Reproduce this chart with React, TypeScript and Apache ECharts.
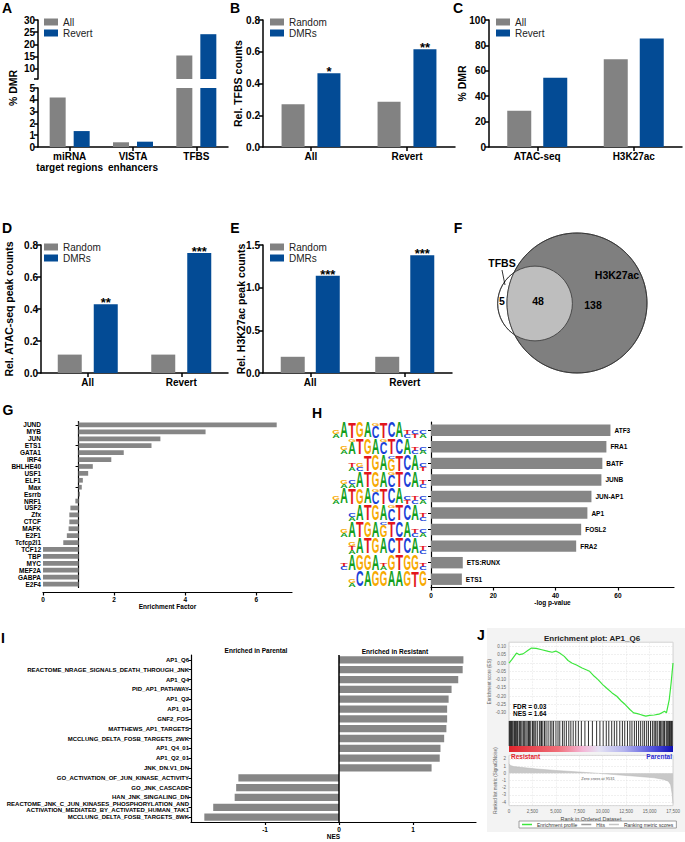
import React, { useEffect, useRef } from "react";
import * as echarts from "echarts";

// ---------------- Panel A ----------------
const aCategories = ["miRNA\ntarget regions", "VISTA\nenhancers", "TFBS"];
const aAll = [4.2, 0.4, 15.5];
const aRevert = [1.35, 0.45, 24.2];
const aUpperTicks = [10, 15, 20, 25, 30];

// ---------------- Panel B ----------------
const bCategories = ["All", "Revert"];
const bRandom = [0.27, 0.285];
const bDMRs = [0.465, 0.615];
const bStars = ["*", "**"];

// ---------------- Panel C ----------------
const cCategories = ["ATAC-seq", "H3K27ac"];
const cAll = [28.5, 69];
const cRevert = [54.5, 85.5];

// ---------------- Panel D ----------------
const dCategories = ["All", "Revert"];
const dRandom = [0.115, 0.115];
const dDMRs = [0.43, 0.75];
const dStars = ["**", "***"];

// ---------------- Panel E ----------------
const eCategories = ["All", "Revert"];
const eRandom = [0.19, 0.19];
const eDMRs = [1.14, 1.38];
const eStars = ["***", "***"];

// ---------------- Panel F (Venn) ----------------
const vennSets = ["TFBS", "H3K27ac"];
const vennCounts = [5, 48, 138]; // TFBS only, both, H3K27ac only

// ---------------- Panel G ----------------
const gFactors = ["JUND", "MYB", "JUN", "ETS1", "GATA1", "IRF4", "BHLHE40", "USF1", "ELF1", "Max", "Esrrb", "NRF1", "USF2", "Zfx", "CTCF", "MAFK", "E2F1", "Tcfcp2l1", "TCF12", "TBP", "MYC", "MEF2A", "GABPA", "E2F4"];
const gEnrichment = [6.57, 4.57, 3.3, 3.05, 2.27, 1.92, 1.4, 1.27, 1.12, 1.09, 1.04, 0.91, 0.77, 0.74, 0.74, 0.72, 0.67, 0.57, 0, 0, 0, 0, 0, 0];
const gTicks = [0, 2, 4, 6];

// ---------------- Panel H ----------------
const hMotifNames = ["ATF3", "FRA1", "BATF", "JUNB", "JUN-AP1", "AP1", "FOSL2", "FRA2", "ETS:RUNX", "ETS1"];
const hLogP = [57.6, 56.3, 55.0, 54.7, 51.5, 50.2, 48.2, 46.6, 10.2, 9.9];
const hLogos = [
  "ga A T G A gC T C A tc ct ca",
  "ga gA T G A gC T C A tc ca",
  "ta gc T G A cG T C A ct",
  "ga ca A T G A gC T C A tc",
  "ga A T G A gC T C A ct tc ca",
  "ca A T G A gC T C A tc",
  "ga A T G A cG T C A tc ca",
  "gta A T G A C T C A tc",
  "tc A G G A ta G T G G tc",
  "ga C A G G A A G T G",
];
const hTicks = [0, 20, 40, 60];

// ---------------- Panel I ----------------
const iGeneSets = [
  "AP1_Q6",
  "REACTOME_NRAGE_SIGNALS_DEATH_THROUGH_JNK",
  "AP1_Q4",
  "PID_AP1_PATHWAY",
  "AP1_Q2",
  "AP1_01",
  "GNF2_FOS",
  "MATTHEWS_AP1_TARGETS",
  "MCCLUNG_DELTA_FOSB_TARGETS_2WK",
  "AP1_Q4_01",
  "AP1_Q2_01",
  "JNK_DN.V1_DN",
  "GO_ACTIVATION_OF_JUN_KINASE_ACTIVITY",
  "GO_JNK_CASCADE",
  "HAN_JNK_SINGALING_DN",
  "REACTOME_JNK_C_JUN_KINASES_PHOSPHORYLATION_AND\nACTIVATION_MEDIATED_BY_ACTIVATED_HUMAN_TAK1",
  "MCCLUNG_DELTA_FOSB_TARGETS_8WK",
];
const iNES = [1.68, 1.67, 1.61, 1.52, 1.48, 1.46, 1.46, 1.45, 1.42, 1.37, 1.36, 1.25, -1.36, -1.39, -1.41, -1.7, -1.82];
const iTicks = [-1, 0, 1];

// ---------------- Panel J ----------------
const jEsRank = [0, 300, 800, 1100, 1500, 2000, 2400, 2900, 3500, 4200, 4600, 5000, 5400, 5900, 6300, 6700, 7200, 7800, 8600, 9100, 9500, 10000, 10400, 11000, 11500, 12000, 12400, 12900, 13300, 13700, 14000, 14300, 14600, 15000, 15500, 16000, 16300, 16600, 16800, 17100, 17300, 17500];
const jEsScore = [0, 0.02, 0.06, 0.05, 0.055, 0.075, 0.09, 0.088, 0.08, 0.07, 0.065, 0.072, 0.06, 0.04, 0.015, 0, -0.012, -0.03, -0.05, -0.08, -0.1, -0.13, -0.15, -0.18, -0.2, -0.23, -0.25, -0.28, -0.3, -0.305, -0.31, -0.315, -0.32, -0.315, -0.313, -0.308, -0.3, -0.29, -0.3, -0.22, -0.12, 0];
const jHits = [30, 90, 170, 260, 330, 410, 530, 600, 690, 820, 880, 950, 1100, 1180, 1260, 1380, 1520, 1610, 1700, 1830, 2010, 2090, 2180, 2320, 2500, 2580, 2690, 2850, 3020, 3240, 3400, 3470, 3610, 3790, 3950, 4170, 4400, 4580, 4760, 5010, 5230, 5420, 5700, 5890, 6120, 6380, 6600, 6850, 7120, 7400, 7720, 8100, 8480, 8900, 9350, 9700, 10050, 10380, 10650, 10960, 11240, 11500, 11820, 12100, 12350, 12640, 12900, 13120, 13380, 13600, 13830, 14050, 14280, 14470, 14690, 14880, 15100, 15300, 15480, 15600, 15690, 15870, 16050, 16150, 16240, 16420, 16520, 16600, 16770, 16860, 16950, 17050, 17120, 17200, 17280, 17350, 17420];
const jMetricRank = [0, 150, 500, 1500, 3000, 5000, 7500, 9531, 11500, 13500, 15500, 16500, 17000, 17250, 17400, 17500];
const jMetricValue = [1.35, 1.1, 0.95, 0.8, 0.6, 0.4, 0.18, 0, -0.2, -0.4, -0.62, -0.85, -1.1, -1.6, -2.8, -4.2];
const jZeroCross = 9531;
const jStats = ["FDR = 0.03", "NES = 1.64"];
const jLegend = ["Enrichment profile", "Hits", "Ranking metric scores"];

// ---------------- styling ----------------
const FONT = "'Liberation Sans', Arial, Helvetica, sans-serif";
const GRAY = "#828282";
const BLUE = "#034b95";
const HBAR = "#868686";
const LETTER_C: Record<string, string> = { A: "#12a01c", C: "#1a3fd8", G: "#f7a900", T: "#e3151c" };
const LETTER_W: Record<string, number> = { A: 7.22, C: 7.22, G: 7.78, T: 6.11 };

const bold = (size: number, extra: any = {}) => ({ fontFamily: FONT, fontWeight: "bold", fontSize: size, color: "#000", ...extra });

function buildOption() {
  const grid: any[] = [];
  const xAxis: any[] = [];
  const yAxis: any[] = [];
  const series: any[] = [];
  const legend: any[] = [];
  const graphic: any[] = [];

  const addGrid = (g: any) => { grid.push({ outerBoundsMode: "none", containLabel: false, ...g }); return grid.length - 1; };
  const addX = (a: any) => { xAxis.push(a); return xAxis.length - 1; };
  const addY = (a: any) => { yAxis.push(a); return yAxis.length - 1; };

  const line15 = { color: "#000", width: 1.5 };
  const catX = (gi: number, data: string[], extra: any = {}) =>
    addX({
      type: "category", gridIndex: gi, data,
      axisLine: { show: true, lineStyle: line15 },
      axisTick: { show: true, alignWithLabel: true, length: 4, lineStyle: line15 },
      axisLabel: { ...bold(10), margin: 4, lineHeight: 11, interval: 0 },
      ...extra,
    });
  const valY = (gi: number, min: number, max: number, interval: number | undefined, dec: number, name: string, nameGap: number, extra: any = {}) =>
    addY({
      type: "value", gridIndex: gi, min, max, interval, name, nameLocation: "middle", nameGap, nameMoveOverlap: false,
      nameTextStyle: bold(10.5),
      axisLine: { show: true, lineStyle: line15 },
      axisTick: { show: true, length: 4, lineStyle: line15 },
      splitLine: { show: false },
      axisLabel: { ...bold(10), margin: 3, formatter: (v: number) => v.toFixed(dec) },
      ...extra,
    });
  const starLabel = (stars: string[]) => ({ show: true, position: "top", distance: 0, offset: [0, 5], formatter: (p: any) => stars[p.dataIndex], ...bold(13) });
  const vbar = (name: string, data: any[], color: string, xi: number, yi: number, barWidth: number, barGap: string, label?: any) =>
    series.push({ type: "bar", name, data, xAxisIndex: xi, yAxisIndex: yi, barWidth, barGap, itemStyle: { color }, label, silent: true });
  const topLegend = (left: number, top: number, names: string[]) =>
    legend.push({ left, top, orient: "vertical", data: names, icon: "rect", itemWidth: 14, itemHeight: 7, itemGap: 1, padding: 0, selectedMode: false, textStyle: { fontFamily: FONT, fontSize: 10, color: "#222" } });

  // ---- A ----
  const upperMin = 5.9;
  const gA1 = addGrid({ left: 38, top: 20, width: 190, height: 59 });
  const gA0 = addGrid({ left: 38, top: 88, width: 190, height: 59 });
  const xA1 = catX(gA1, aCategories, { show: false });
  const yA1 = valY(gA1, upperMin, 30, undefined, 0, "", 0, {
    axisLabel: { ...bold(10), margin: 3, customValues: aUpperTicks },
    axisTick: { show: true, length: 4, lineStyle: line15, customValues: [upperMin, ...aUpperTicks] },
  });
  const xA0 = catX(gA0, aCategories);
  const yA0 = valY(gA0, 0, 5, 1, 0, "", 0);
  vbar("All", aAll.map((v) => (v > upperMin ? v : "-")), GRAY, xA1, yA1, 16, "50%");
  vbar("Revert", aRevert.map((v) => (v > upperMin ? v : "-")), BLUE, xA1, yA1, 16, "50%");
  vbar("All", aAll.map((v) => Math.min(v, 5)), GRAY, xA0, yA0, 16, "50%");
  vbar("Revert", aRevert.map((v) => Math.min(v, 5)), BLUE, xA0, yA0, 16, "50%");
  topLegend(44, 17, ["All", "Revert"]);

  // ---- B ----
  const gB = addGrid({ left: 263, top: 20, width: 192, height: 127 });
  const xB = catX(gB, bCategories);
  const yB = valY(gB, 0, 0.8, 0.2, 1, "Rel. TFBS counts", 20);
  vbar("Random", bRandom, GRAY, xB, yB, 23, "56%");
  vbar("DMRs", bDMRs, BLUE, xB, yB, 23, "56%", starLabel(bStars));
  topLegend(270, 17, ["Random", "DMRs"]);

  // ---- C ----
  const gC = addGrid({ left: 489, top: 20, width: 193, height: 127 });
  const xC = catX(gC, cCategories);
  const yC = valY(gC, 0, 100, 20, 0, "% DMR", 22);
  vbar("All", cAll, GRAY, xC, yC, 24, "50%");
  vbar("Revert", cRevert, BLUE, xC, yC, 24, "50%");
  topLegend(496, 17, ["All", "Revert"]);

  // ---- D ----
  const gD = addGrid({ left: 41, top: 245, width: 187, height: 128 });
  const xD = catX(gD, dCategories);
  const yD = valY(gD, 0, 0.8, 0.2, 1, "Rel. ATAC-seq peak counts", 27);
  vbar("Random", dRandom, GRAY, xD, yD, 24, "50%");
  vbar("DMRs", dDMRs, BLUE, xD, yD, 24, "50%", starLabel(dStars));
  topLegend(44, 242, ["Random", "DMRs"]);

  // ---- E ----
  const gE = addGrid({ left: 263, top: 245, width: 189, height: 128 });
  const xE = catX(gE, eCategories);
  const yE = valY(gE, 0, 1.5, 0.5, 1, "Rel. H3K27ac peak counts", 17);
  vbar("Random", eRandom, GRAY, xE, yE, 24, "46%");
  vbar("DMRs", eDMRs, BLUE, xE, yE, 24, "46%", starLabel(eStars));
  topLegend(270, 242, ["Random", "DMRs"]);

  // ---- G ----
  const line12 = { color: "#000", width: 1.2 };
  const gG = addGrid({ left: 43, top: 421.5, width: 249, height: 166 });
  const gMax = 7;
  const xG = addX({
    type: "value", gridIndex: gG, min: 0, max: gMax, offset: 5,
    axisLine: { show: true, onZero: false, lineStyle: line12 },
    axisTick: { show: true, length: 3, lineStyle: line12, customValues: gTicks },
    axisLabel: { ...bold(6.5), margin: 3, customValues: gTicks },
    splitLine: { show: false },
    name: "Enrichment Factor", nameLocation: "middle", nameGap: 10, nameTextStyle: bold(6.5), nameMoveOverlap: false,
  });
  const yGl = addY({
    type: "category", gridIndex: gG, data: gFactors, inverse: true, position: "left",
    axisLine: { show: false }, axisTick: { show: false },
    axisLabel: { ...bold(6.5), margin: 2, interval: 0 },
  });
  addY({
    type: "category", gridIndex: gG, data: gFactors, inverse: true, position: "left", offset: -249 / gMax,
    axisLine: { show: true, onZero: false, lineStyle: line12 },
    axisTick: { show: true, alignWithLabel: true, length: 3, lineStyle: { color: "#000", width: 1 } },
    axisLabel: { show: false },
  });
  series.push({
    type: "custom", xAxisIndex: xG, yAxisIndex: yGl, silent: true,
    data: gEnrichment.map((v, i) => [v, i]),
    encode: { x: 0, y: 1 },
    renderItem: (params: any, api: any) => {
      const v = api.value(0);
      const i = api.value(1);
      const p1 = api.coord([1, i]);
      const p2 = api.coord([v, i]);
      const h = api.size([0, 1])[1] * 0.68;
      return { type: "rect", shape: { x: Math.min(p1[0], p2[0]), y: p1[1] - h / 2, width: Math.abs(p2[0] - p1[0]), height: h }, style: { fill: HBAR } };
    },
  });

  // ---- H ----
  const gH = addGrid({ left: 431, top: 422, width: 243, height: 165.5 });
  const xH = addX({
    type: "value", gridIndex: gH, min: 0, max: 78,
    axisLine: { show: true, lineStyle: line12 },
    axisTick: { show: true, length: 3, lineStyle: line12, customValues: hTicks },
    axisLabel: { ...bold(6.5), margin: 4, customValues: hTicks },
    splitLine: { show: false },
    name: "-log p-value", nameLocation: "middle", nameGap: 11, nameTextStyle: bold(6.5), nameMoveOverlap: false,
  });
  const yH = addY({
    type: "category", gridIndex: gH, data: hMotifNames, inverse: true,
    axisLine: { show: true, lineStyle: line12 },
    axisTick: { show: true, alignWithLabel: true, length: 3, lineStyle: { color: "#000", width: 1 } },
    axisLabel: { show: false },
  });
  series.push({
    type: "bar", xAxisIndex: xH, yAxisIndex: yH, data: hLogP, barCategoryGap: "31%", silent: true,
    itemStyle: { color: HBAR },
    label: { show: true, position: "right", distance: 4, formatter: "{b}", ...bold(6.5) },
  });
  series.push({
    type: "custom", xAxisIndex: xH, yAxisIndex: yH, silent: true, clip: false,
    data: hMotifNames.map((_, i) => [0, i]),
    encode: { x: 0, y: 1 },
    renderItem: (params: any, api: any) => {
      const i = api.value(1);
      const p = api.coord([0, i]);
      const band = api.size([0, 1])[1];
      const H = band * 0.92;
      const cols = hLogos[i].split(" ");
      const colW = 7.9;
      const right = p[0] - 4;
      const left = right - cols.length * colW;
      const bottom = p[1] + H / 2;
      const children: any[] = [];
      cols.forEach((col, c) => {
        const chars = col.split("");
        const w = chars.map((ch) => (ch === ch.toUpperCase() ? 4 : 1));
        const sum = w.reduce((a, b) => a + b, 0);
        const total = (H * Math.min(sum, 4)) / 4;
        let y = bottom - total;
        chars.forEach((ch, k) => {
          const hh = (total * w[k]) / sum;
          const L = ch.toUpperCase();
          children.push({
            type: "text", x: left + c * colW + colW / 2, y: y + hh / 2,
            scaleX: (colW * 0.96) / LETTER_W[L], scaleY: hh / 7.16,
            style: { text: L, fontSize: 10, fontFamily: "Liberation Sans", fontWeight: "bold", fill: LETTER_C[L], align: "center", verticalAlign: "middle" },
          });
          y += hh;
        });
      });
      return { type: "group", children };
    },
  });

  // ---- I ----
  const gI = addGrid({ left: 191, top: 655, width: 285, height: 167 });
  const xI = addX({
    type: "value", gridIndex: gI, min: -2, max: 1.85,
    axisLine: { show: true, lineStyle: line12 },
    axisTick: { show: true, length: 3, lineStyle: line12, customValues: iTicks },
    axisLabel: { ...bold(6.5), margin: 4, customValues: iTicks },
    splitLine: { show: false },
    name: "NES", nameLocation: "middle", nameGap: 11, nameTextStyle: bold(6.5), nameMoveOverlap: false,
  });
  const yI = addY({
    type: "category", gridIndex: gI, data: iGeneSets, inverse: true, position: "left",
    axisLine: { show: true, onZero: false, lineStyle: line12 },
    axisTick: { show: true, alignWithLabel: true, length: 2.5, lineStyle: { color: "#000", width: 1 } },
    axisLabel: { ...bold(6), margin: 2, lineHeight: 6.3, interval: 0 },
  });
  series.push({
    type: "bar", xAxisIndex: xI, yAxisIndex: yI, data: iNES, barCategoryGap: "26%", silent: true,
    itemStyle: { color: HBAR },
    markLine: { silent: true, symbol: "none", label: { show: false }, lineStyle: { color: "#000", width: 1.5, type: "solid" }, data: [{ xAxis: 0 }] },
  });

  // ---- J ----
  const dash = { color: "#e0e0e0", type: "dashed", width: 0.5 };
  const smallLab = { fontFamily: FONT, fontSize: 4.5, color: "#666" };
  const gJ1 = addGrid({ left: 509, top: 642.25, width: 164, height: 78.9, show: true, backgroundColor: "#fff", borderColor: "#bbb", borderWidth: 0.6 });
  const xJ1 = addX({ type: "value", gridIndex: gJ1, min: 0, max: 17500, interval: 2500, axisLine: { show: false }, axisTick: { show: false }, axisLabel: { show: false }, splitLine: { show: true, lineStyle: dash } });
  const yJ1 = addY({
    type: "value", gridIndex: gJ1, min: -0.35, max: 0.125, interval: 0.05,
    axisLine: { show: false }, axisTick: { show: false },
    axisLabel: { ...smallLab, margin: 3, formatter: (v: number) => (v < -0.345 || v > 0.105 ? "" : Math.abs(v) < 1e-9 ? "0.00" : v.toFixed(2)) },
    splitLine: { show: true, lineStyle: dash },
    name: "Enrichment score (ES)", nameLocation: "middle", nameGap: 17, nameTextStyle: smallLab, nameMoveOverlap: false,
  });
  series.push({
    type: "line", name: jLegend[0], xAxisIndex: xJ1, yAxisIndex: yJ1, silent: true,
    data: jEsRank.map((r, i) => [r, jEsScore[i]]),
    symbol: "none", color: "#3de63d", lineStyle: { color: "#3de63d", width: 1.2 },
  });

  const gJ2 = addGrid({ left: 509, top: 721, width: 164, height: 25, show: true, backgroundColor: "#fff", borderColor: "#bbb", borderWidth: 0.6 });
  const xJ2 = addX({ type: "value", gridIndex: gJ2, min: 0, max: 17500, show: false });
  const yJ2 = addY({ type: "value", gridIndex: gJ2, min: 0, max: 1, show: false });
  series.push({
    type: "custom", name: jLegend[1], xAxisIndex: xJ2, yAxisIndex: yJ2, silent: true,
    itemStyle: { color: "#999" },
    data: jHits.map((r) => [r, 0.5]),
    encode: { x: 0, y: 1 },
    renderItem: (params: any, api: any) => {
      const x = api.coord([api.value(0), 0])[0];
      const cs = params.coordSys;
      return { type: "line", shape: { x1: x, y1: cs.y, x2: x, y2: cs.y + cs.height }, style: { stroke: "#1a1a1a", lineWidth: 0.9 } };
    },
  });

  const gJ3 = addGrid({ left: 509, top: 755.4, width: 164, height: 50.2, show: true, backgroundColor: "#fff", borderColor: "#bbb", borderWidth: 0.6 });
  const xJ3 = addX({
    type: "value", gridIndex: gJ3, min: 0, max: 17500, interval: 2500,
    axisLine: { show: false }, axisTick: { show: false },
    axisLabel: { ...smallLab, margin: 3, formatter: (v: number) => v.toLocaleString("en-US") },
    splitLine: { show: true, lineStyle: dash },
    name: "Rank in Ordered Dataset", nameLocation: "middle", nameGap: 10, nameTextStyle: { fontFamily: FONT, fontSize: 5.5, color: "#444" }, nameMoveOverlap: false,
  });
  const yJ3 = addY({
    type: "value", gridIndex: gJ3, min: -4.5, max: 2.5, splitNumber: 7,
    axisLine: { show: false }, axisTick: { show: false },
    axisLabel: { ...smallLab, margin: 3, formatter: (v: number) => (Number.isInteger(v) ? String(v) : "") },
    splitLine: { show: true, lineStyle: dash },
    name: "Ranked list metric (Signal2Noise)", nameLocation: "middle", nameGap: 11, nameTextStyle: smallLab, nameMoveOverlap: false,
  });
  series.push({
    type: "line", name: jLegend[2], xAxisIndex: xJ3, yAxisIndex: yJ3, silent: true,
    data: jMetricRank.map((r, i) => [r, jMetricValue[i]]),
    symbol: "none", color: "#c4c4c4", lineStyle: { color: "#b8b8b8", width: 0.5 }, areaStyle: { color: "#c8c8c8", opacity: 1 },
  });
  legend.push({
    left: 519, top: 821, data: jLegend, icon: "rect", itemWidth: 10, itemHeight: 1.5, itemGap: 4,
    padding: [1, 3], borderColor: "#888", borderWidth: 0.8, backgroundColor: "#fff", selectedMode: false,
    textStyle: { fontFamily: FONT, fontSize: 5, color: "#333" },
  });

  // ---------------- graphic ----------------
  const txt = (x: number, y: number, text: string, style: any, extra: any = {}) =>
    graphic.push({ type: "text", x, y, z: 20, silent: true, ...extra, style: { text, align: "center", verticalAlign: "middle", fill: "#000", fontFamily: FONT, fontWeight: "bold", ...style } });

  // panel letters
  const letters: [string, number, number][] = [["A", 7, 8], ["B", 235, 8], ["C", 458, 8], ["D", 7, 228], ["E", 235, 228], ["F", 458, 228], ["G", 8, 410], ["H", 317, 413], ["I", 3, 638], ["J", 481, 635]];
  letters.forEach(([t, x, y]) => txt(x, y, t, { fontSize: 14 }));
  txt(12.5, 88, "% DMR", { fontSize: 10.5 }, { rotation: Math.PI / 2 });

  // Venn diagram (areas proportional to counts)
  const R = 70;
  const totalH3 = vennCounts[1] + vennCounts[2];
  const totalTF = vennCounts[0] + vennCounts[1];
  const r = R * Math.sqrt(totalTF / totalH3);
  const B = [577, 303];
  const S = [535, 303.5];
  const dx = B[0] - S[0], dy = B[1] - S[1], d = Math.hypot(dx, dy);
  const phi = Math.atan2(dy, dx);
  const alpha = Math.acos((r * r + d * d - R * R) / (2 * r * d));
  const lens: number[][] = [];
  for (let k = 0; k <= 80; k++) {
    const t = phi - alpha + (2 * alpha * k) / 80;
    lens.push([S[0] + r * Math.cos(t), S[1] + r * Math.sin(t)]);
  }
  const st = lens[0], en = lens[lens.length - 1];
  const th2 = Math.atan2(en[1] - B[1], en[0] - B[0]);
  const th1 = Math.atan2(st[1] - B[1], st[0] - B[0]);
  let delta = th1 - th2;
  while (delta > Math.PI) delta -= 2 * Math.PI;
  while (delta < -Math.PI) delta += 2 * Math.PI;
  for (let k = 1; k < 40; k++) {
    const t = th2 + (delta * k) / 40;
    lens.push([B[0] + R * Math.cos(t), B[1] + R * Math.sin(t)]);
  }
  graphic.push({ type: "circle", z: 1, silent: true, shape: { cx: S[0], cy: S[1], r }, style: { fill: "#fff", stroke: "#333", lineWidth: 0.8 } });
  graphic.push({ type: "circle", z: 2, silent: true, shape: { cx: B[0], cy: B[1], r: R }, style: { fill: "#7f7f7f", stroke: "#333", lineWidth: 0.8 } });
  graphic.push({ type: "polygon", z: 3, silent: true, shape: { points: lens }, style: { fill: "#bebebe" } });
  graphic.push({ type: "circle", z: 4, silent: true, shape: { cx: S[0], cy: S[1], r }, style: { fill: "none", stroke: "#333", lineWidth: 0.8 } });
  graphic.push({ type: "circle", z: 4, silent: true, shape: { cx: B[0], cy: B[1], r: R }, style: { fill: "none", stroke: "#333", lineWidth: 0.8 } });
  txt(502, 301, String(vennCounts[0]), { fontSize: 10.5 });
  txt(538, 301, String(vennCounts[1]), { fontSize: 10.5 });
  txt(593, 305, String(vennCounts[2]), { fontSize: 10.5 });
  txt(502, 263, vennSets[0], { fontSize: 10.5 });
  txt(617, 275, vennSets[1], { fontSize: 10.5 });
  graphic.push({ type: "line", z: 5, silent: true, shape: { x1: 502, y1: 270, x2: 505, y2: 285 }, style: { stroke: "#000", lineWidth: 0.8 } });

  // I headers
  txt(256, 650, "Enriched in Parental", { fontSize: 6.5 });
  txt(395, 651, "Enriched in Resistant", { fontSize: 6.5 });

  // J decorations
  graphic.push({ type: "rect", z: -1, silent: true, shape: { x: 487, y: 628, width: 198, height: 204 }, style: { fill: "#f3f3f3" } });
  txt(592, 638, "Enrichment plot: AP1_Q6", { fontSize: 8, fill: "#222" });
  txt(513, 706, jStats[0], { fontSize: 6.5, align: "left" });
  txt(513, 713.5, jStats[1], { fontSize: 6.5, align: "left" });
  graphic.push({
    type: "rect", z: 20, silent: true, shape: { x: 509, y: 746, width: 164, height: 6 },
    style: {
      fill: {
        type: "linear", x: 0, y: 0, x2: 1, y2: 0,
        colorStops: [
          { offset: 0, color: "#e0242c" }, { offset: 0.3, color: "#f0707a" }, { offset: 0.45, color: "#f4b6d6" },
          { offset: 0.55, color: "#e4e2f4" }, { offset: 0.7, color: "#b4b4ee" }, { offset: 0.88, color: "#5050dc" }, { offset: 1, color: "#1010b4" },
        ],
      },
    },
  });
  txt(511, 756.5, "Resistant", { fontSize: 6.5, align: "left", fill: "#e2242c" });
  txt(672, 756.5, "Parental", { fontSize: 6.5, align: "right", fill: "#2a2ad2" });
  txt(598, 778, `Zero cross at ${jZeroCross}`, { fontSize: 4, fontWeight: "normal", fill: "#555" });

  return {
    animation: false,
    backgroundColor: "#fff",
    textStyle: { fontFamily: FONT },
    grid, xAxis, yAxis, legend, series, graphic,
  };
}

export default function App() {
  const ref = useRef<HTMLDivElement>(null);
  useEffect(() => {
    if (!ref.current) return;
    const chart = echarts.init(ref.current, undefined, { renderer: "svg" });
    chart.setOption(buildOption() as any);
    return () => chart.dispose();
  }, []);
  return <div ref={ref} style={{ position: "fixed", left: 0, top: 0, width: 685, height: 842, background: "#fff" }} />;
}
